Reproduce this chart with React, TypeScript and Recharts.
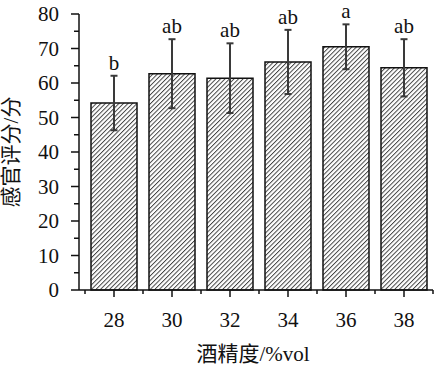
import React from "react";
import {
  ComposedChart,
  Bar,
  Line,
  XAxis,
  YAxis,
  ErrorBar,
  LabelList,
} from "recharts";

const ALCOHOL = ["28", "30", "32", "34", "36", "38"];
const SCORE = [54.2, 62.7, 61.4, 66.1, 70.5, 64.4];
const SD = [7.9, 10.0, 10.1, 9.3, 6.5, 8.3];
const LETTERS = ["b", "ab", "ab", "ab", "a", "ab"];
const Y_TICKS = [0, 5, 10, 15, 20, 25, 30, 35, 40, 45, 50, 55, 60, 65, 70, 75, 80];

const W = 434;
const H = 368;
const MARGIN = { top: 14, right: 1, bottom: 0, left: 0 };
const Y_AXIS_W = 79;
const X_AXIS_H = 78;
const PAD_LEFT = 6;
const BAND = (W - MARGIN.left - MARGIN.right - Y_AXIS_W - PAD_LEFT) / ALCOHOL.length;

const SERIF = "'Liberation Serif', 'Times New Roman', 'Noto Sans CJK SC', serif";
const INK = "#111";
const FS = 21;

const data = ALCOHOL.map((x, i) => ({
  x,
  score: SCORE[i],
  sd: SD[i],
  top: SCORE[i] + SD[i],
  sig: LETTERS[i],
}));

function YTick(props: any) {
  const { x, y, payload } = props;
  const major = payload.value % 10 === 0;
  return (
    <g>
      <line x1={major ? x + 12 : x + 15} y1={y} x2={x + 20} y2={y} stroke={INK} strokeWidth={1.5} />
      {major && (
        <text x={x} y={y} textAnchor="end" dominantBaseline="central" fontSize={FS} fontFamily={SERIF} fill={INK}>
          {payload.value}
        </text>
      )}
    </g>
  );
}

function XTick(props: any) {
  const { x, y, payload, index } = props;
  const axisY = y - 23;
  const last = index === ALCOHOL.length - 1;
  return (
    <g>
      <line x1={x} y1={axisY} x2={x} y2={axisY + 7} stroke={INK} strokeWidth={1.5} />
      <line x1={x - BAND / 2} y1={axisY} x2={x - BAND / 2} y2={axisY + 4} stroke={INK} strokeWidth={1.5} />
      {last && (
        <line x1={x + BAND / 2} y1={axisY} x2={x + BAND / 2} y2={axisY + 4} stroke={INK} strokeWidth={1.5} />
      )}
      <text x={x} y={y} dy="0.68em" textAnchor="middle" fontSize={FS} fontFamily={SERIF} fill={INK}>
        {payload.value}
      </text>
    </g>
  );
}

// significance letter, baseline a few px above the error bar cap
function SigLabel(props: any) {
  const { x, y, width, value } = props;
  return (
    <text x={x + (width || 0) / 2} y={y - 6} textAnchor="middle" fontSize={FS} fontFamily={SERIF} fill={INK}>
      {value}
    </text>
  );
}

export default function App() {
  return (
    <div style={{ position: "absolute", left: 0, top: 0, width: W, height: H, background: "#fff" }}>
      <svg width={0} height={0} style={{ position: "absolute" }}>
        <defs>
          <pattern id="hatch" patternUnits="userSpaceOnUse" width={3.2} height={3.2} patternTransform="rotate(45)">
            <rect width={3.2} height={3.2} fill="#fff" />
            <line x1={0.5} y1={0} x2={0.5} y2={3.2} stroke="#333" strokeWidth={0.9} />
          </pattern>
        </defs>
      </svg>
      <ComposedChart width={W} height={H} data={data} margin={MARGIN}>
        <XAxis
          dataKey="x"
          height={X_AXIS_H}
          padding={{ left: PAD_LEFT, right: 0 }}
          axisLine={{ stroke: INK, strokeWidth: 1.5 }}
          tickLine={false}
          tickSize={7}
          tickMargin={16}
          tick={<XTick />}
          interval={0}
          label={{
            content: ({ viewBox }: any) => (
              <text
                x={viewBox.x + viewBox.width / 2 - 3}
                y={viewBox.y + 71}
                textAnchor="middle"
                fontSize={FS}
                fontFamily={SERIF}
                fill={INK}
              >
                酒精度/%vol
              </text>
            ),
          }}
        />
        <YAxis
          width={Y_AXIS_W}
          domain={[0, 80]}
          ticks={Y_TICKS}
          interval={0}
          axisLine={{ stroke: INK, strokeWidth: 1.5 }}
          tickLine={false}
          tickSize={8}
          tickMargin={12}
          tick={<YTick />}
          label={{
            content: ({ viewBox }: any) => {
              const cx = viewBox.x + 11;
              const cy = viewBox.y + viewBox.height / 2;
              return (
                <text
                  transform={`translate(${cx},${cy}) rotate(-90)`}
                  textAnchor="middle"
                  dominantBaseline="central"
                  fontSize={FS}
                  fontFamily={SERIF}
                  fill={INK}
                >
                  感官评分/分
                </text>
              );
            },
          }}
        />
        <Bar dataKey="score" barSize={46} fill="url(#hatch)" stroke={INK} strokeWidth={1.5} isAnimationActive={false}>
          <ErrorBar dataKey="sd" width={3.5} stroke="#3a3a3a" strokeWidth={2} />
        </Bar>
        <Line
          dataKey="top"
          stroke="none"
          dot={false}
          activeDot={false}
          legendType="none"
          isAnimationActive={false}
        >
          <LabelList dataKey="sig" content={<SigLabel />} />
        </Line>
      </ComposedChart>
    </div>
  );
}
